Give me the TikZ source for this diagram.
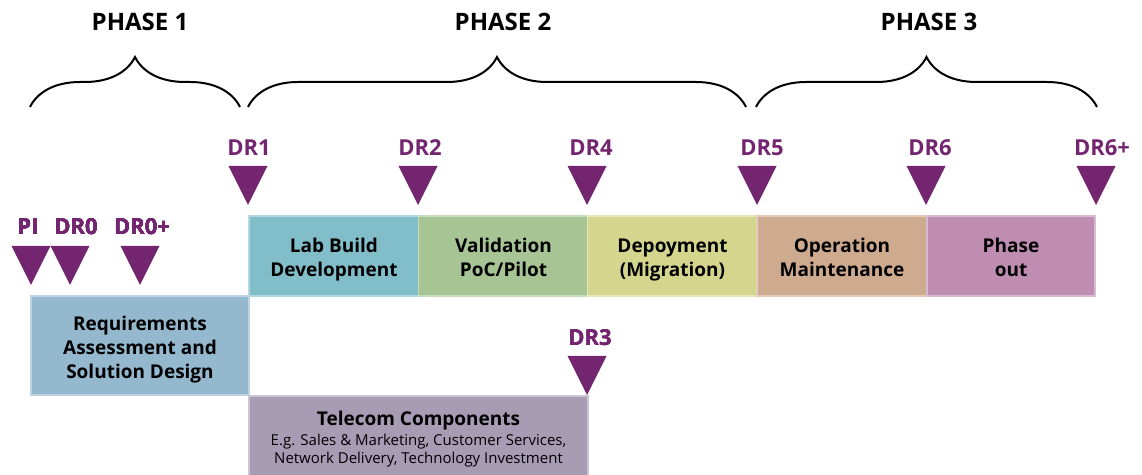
\documentclass[tikz,border=0pt]{standalone}
\usepackage{fontspec}
\setmainfont{Open Sans}
\usepackage{tikz}
\usetikzlibrary{decorations.pathreplacing}
\definecolor{drpurple}{HTML}{742570}
\definecolor{labblue}{HTML}{82BECA}
\definecolor{valgreen}{HTML}{A6C494}
\definecolor{depyellow}{HTML}{D5D68E}
\definecolor{opbrown}{HTML}{CEAA8F}
\definecolor{outpink}{HTML}{BF8DB2}
\definecolor{reqblue}{HTML}{94B8CE}
\definecolor{telmauve}{HTML}{A89CB4}
\tikzset{stage/.style={fill=#1, draw=#1!60!white, line width=0.8pt, inner sep=0pt,
      minimum width=85pt, minimum height=40pt}}
\tikzset{stagetext/.style={inner sep=0pt, align=center, font=\bfseries\fontsize{9.5}{12}\selectfont}}
\tikzset{drlabel/.style={text=drpurple, inner sep=0pt, font=\bfseries\fontsize{11}{13}\selectfont}}
\tikzset{phase/.style={inner sep=0pt, font=\bfseries\fontsize{12}{14}\selectfont}}
\tikzset{phasebrace/.style={decorate, decoration={brace, amplitude=25pt}, line width=1pt}}
\newcommand{\gate}[2]{\fill[drpurple] (#1,#2) -- ++(-19.5,-39) -- ++(39,0) -- cycle;}
\newcommand{\smalltext}{\mdseries\fontsize{7.5}{8.5}\selectfont}

\begin{document}
\begin{tikzpicture}[x=0.5pt,y=-0.5pt]
    \useasboundingbox (0,0) rectangle (1142,475);
    \node[phase] (ph1) at (140,22) {PHASE 1};
    \node[phase] (ph2) at (503,22) {PHASE 2};
    \node[phase] (ph3) at (929,22) {PHASE 3};
    \draw[phasebrace] (30,107) -- (240,107);
    \draw[phasebrace] (248,107) -- (746,107);
    \draw[phasebrace] (756,107) -- (1097,107);
    \foreach \x/\n/\t in {249/dr1/DR1, 420/dr2/DR2, 591/dr4/DR4, 762/dr5/DR5, 930/dr6/DR6, 1102/dr6p/DR6+}
      \node[drlabel] (\n) at (\x,148) {\t};
    \foreach \x in {248,418,587,757,926,1096}
      \gate{\x}{205}
    \foreach \x/\n/\t in {28/pi/PI, 76/dr0/DR0, 142/dr0p/DR0+}
      \node[drlabel] (\n) at (\x,227) {\t};
    \foreach \x in {31,70,140}
      \gate{\x}{285}
    \node[drlabel] (dr3) at (590,338) {DR3};
    \gate{587}{395}
    \node[stage=labblue] (lab) at (334,256) {};
    \node[stage=valgreen] (val) at (503.5,256) {};
    \node[stage=depyellow] (dep) at (672.5,256) {};
    \node[stage=opbrown] (op) at (842,256) {};
    \node[stage=outpink, minimum width=84pt] (out) at (1011,256) {};
    \node[stage=reqblue, minimum width=109pt, minimum height=49.5pt] (req) at (140,345.5) {};
    \node[stage=telmauve, minimum width=169.5pt, minimum height=40pt] (tel) at (418.5,436) {};
    \node[stagetext] (labtext) at (334,260) {Lab Build\\Development};
    \node[stagetext] (valtext) at (503.5,257) {Validation\\PoC/Pilot};
    \node[stagetext] (deptext) at (672.5,260) {Depoyment\\(Migration)};
    \node[stagetext] (optext) at (842,257) {Operation\\Maintenance};
    \node[stagetext] (outtext) at (1011,257) {Phase\\out};
    \node[stagetext] (reqtext) at (140,349.5) {Requirements\\Assessment and\\Solution Design};
    \node[stagetext] (teltext) at (418.5,439)
      {Telecom Components\\[-2pt]
       \smalltext E.g. Sales \& Marketing, Customer Services,\\[-3pt]
       \smalltext Network Delivery, Technology Investment};
  \end{tikzpicture}
\end{document}
